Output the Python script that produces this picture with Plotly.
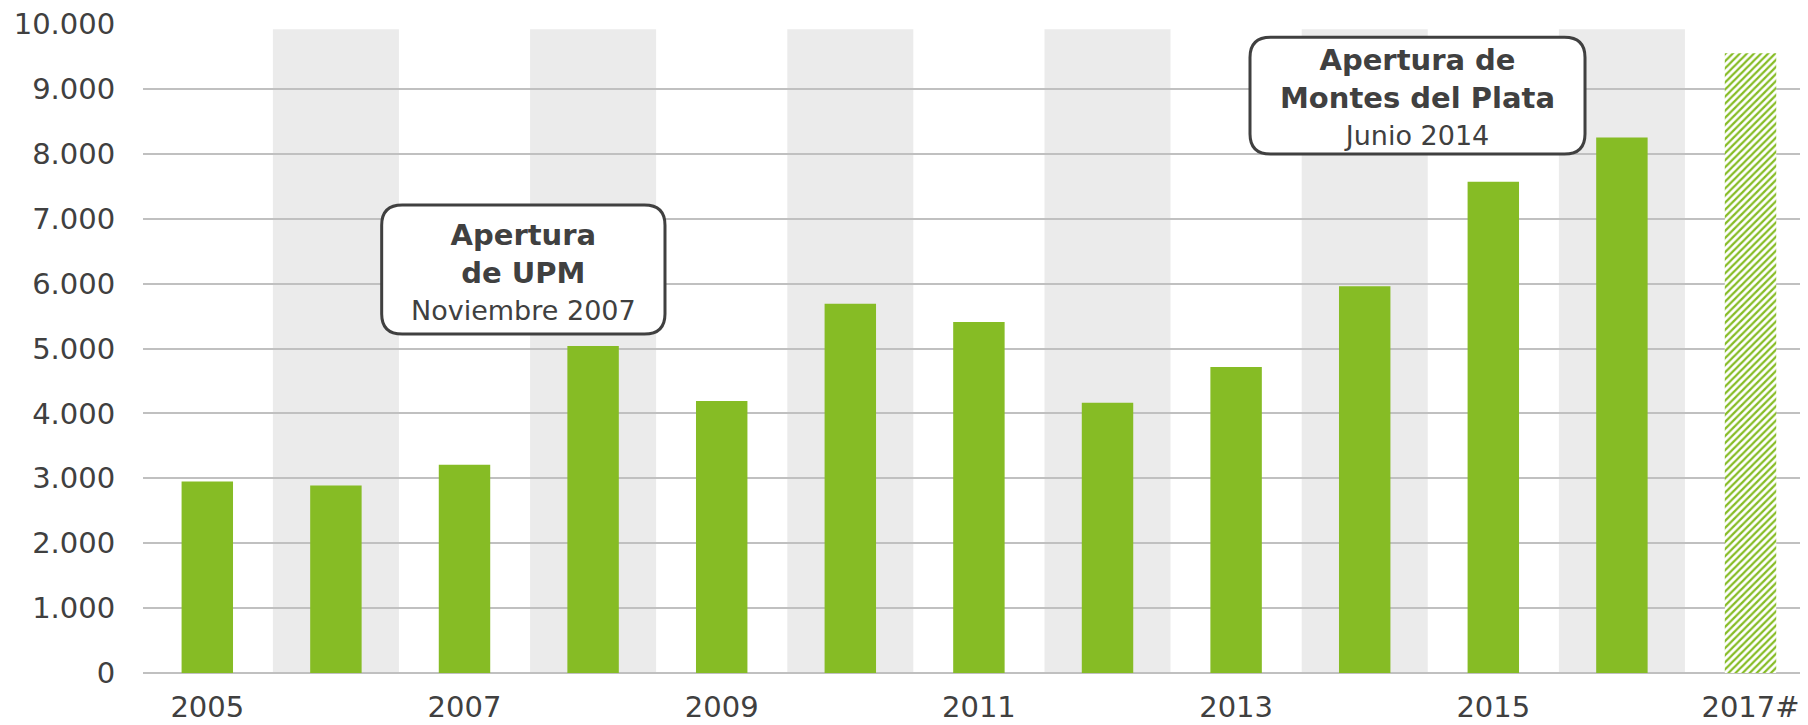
import plotly.graph_objects as go

# ---- data ----
years = [2005, 2006, 2007, 2008, 2009, 2010, 2011, 2012, 2013, 2014, 2015, 2016]
values = [2950, 2890, 3210, 5040, 4190, 5690, 5410, 4165, 4715, 5960, 7570, 8250]
proj_year = [2017]
proj_value = [9550]
tick_years = [2005, 2007, 2009, 2011, 2013, 2015, 2017]
tick_text = ["2005", "2007", "2009", "2011", "2013", "2015", "2017#"]
band_years = [2006, 2008, 2010, 2012, 2014, 2016]
y_ticks = list(range(0, 10001, 1000))

GREEN = "#86BC25"
TXT = "#404040"
FONT = "DejaVu Sans"

fig = go.Figure()
fig.add_trace(go.Bar(x=years, y=values, width=0.4, marker=dict(color=GREEN, line=dict(width=0)),
                     hoverinfo="x+y", showlegend=False))
fig.add_trace(go.Bar(x=proj_year, y=proj_value, width=0.4,
                     marker=dict(color=GREEN, line=dict(width=0),
                                 pattern=dict(shape="/", fgcolor=GREEN, bgcolor="white",
                                              size=5, solidity=0.45, fillmode="replace")),
                     hoverinfo="x+y", showlegend=False))

shapes = []
for yr in band_years:
    shapes.append(dict(type="rect", xref="x", yref="y", x0=yr - 0.49, x1=yr + 0.49,
                       y0=0, y1=9920, fillcolor="#EBEBEB", line=dict(width=0), layer="below"))


def rrect(x0, x1, y0, y1, rx, ry):
    return (f"M {x0+rx},{y1} L {x1-rx},{y1} Q {x1},{y1} {x1},{y1-ry} "
            f"L {x1},{y0+ry} Q {x1},{y0} {x1-rx},{y0} L {x0+rx},{y0} "
            f"Q {x0},{y0} {x0},{y0+ry} L {x0},{y1-ry} Q {x0},{y1} {x0+rx},{y1} Z")


RX, RY = 0.16, 310
shapes.append(dict(type="path", xref="x", yref="y",
                   path=rrect(2006.356, 2008.559, 5223, 7211, RX, RY),
                   fillcolor="white", line=dict(color=TXT, width=3), layer="above"))
shapes.append(dict(type="path", xref="x", yref="y",
                   path=rrect(2013.108, 2015.713, 7997, 9795, RX, RY),
                   fillcolor="white", line=dict(color=TXT, width=3), layer="above"))

annotations = [
    dict(x=2007.455, y=6180, xref="x", yref="y", showarrow=False, xanchor="center", yanchor="middle",
         text="<b>Apertura<br>de UPM</b><br><span style='font-size:27px'>Noviembre 2007</span>",
         font=dict(family=FONT, size=29, color=TXT), align="center"),
    dict(x=2014.41, y=8870, xref="x", yref="y", showarrow=False, xanchor="center", yanchor="middle",
         text="<b>Apertura de<br>Montes del Plata</b><br><span style='font-size:27px'>Junio 2014</span>",
         font=dict(family=FONT, size=29, color=TXT), align="center"),
]

# page body has an 8px default margin: figure is sized so the plot lands where the reference has it
fig.update_layout(
    width=1800, height=717,
    margin=dict(l=135, r=0, t=16, b=52),
    paper_bgcolor="white", plot_bgcolor="white",
    separators=",.",
    font=dict(family=FONT, size=29, color=TXT),
    shapes=shapes, annotations=annotations,
    xaxis=dict(range=[2004.5, 2017.447], tickmode="array", tickvals=tick_years, ticktext=tick_text,
               showgrid=False, zeroline=False, showline=False, automargin=False,
               ticklabeloverflow="allow",
               ticks="outside", ticklen=8, tickcolor="rgba(0,0,0,0)",
               tickfont=dict(family=FONT, size=29, color=TXT)),
    yaxis=dict(range=[0, 10000.5], tickmode="array", tickvals=y_ticks, tickformat=",d",
               showgrid=True, gridcolor="#C0C0C0", gridwidth=2,
               zeroline=True, zerolinecolor="#C0C0C0", zerolinewidth=2,
               showline=False, automargin=False,
               ticklabeloverflow="allow",
               ticks="outside", ticklen=21, tickcolor="rgba(0,0,0,0)",
               tickfont=dict(family=FONT, size=29, color=TXT)),
)

fig.write_html("out.html")
